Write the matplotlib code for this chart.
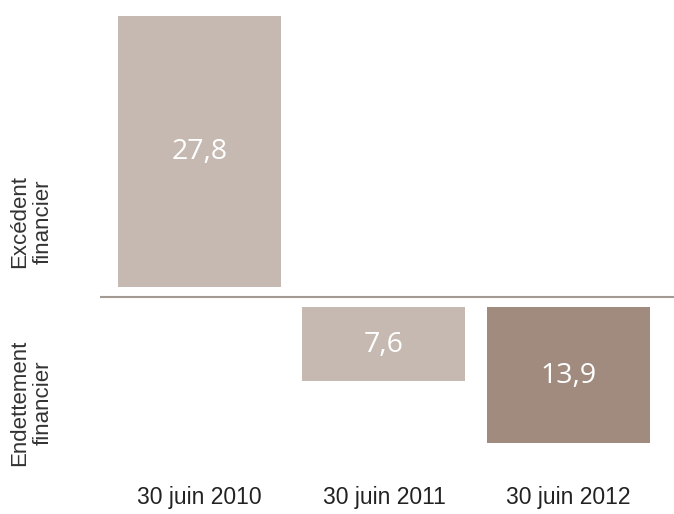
import matplotlib.pyplot as plt
import numpy as np

# data
dates = ['30 juin 2010', '30 juin 2011', '30 juin 2012']
values = [27.8, -7.6, -13.9]
labels = ['27,8', '7,6', '13,9']
colors = ['#c5b9b1', '#c5b9b1', '#a18b7e']

gap = 1.05  # bars sit a little away from the zero line

fig = plt.figure(figsize=(6.74, 5.14), dpi=100)
ax = fig.add_axes([100 / 674, 54 / 514, 574 / 674, 460 / 514])

x = np.arange(len(dates))
bottoms = [gap if v > 0 else -gap for v in values]
bars = ax.bar(x, values, width=0.883, bottom=bottoms, color=colors)

for b, lab in zip(bars, labels):
    cx = b.get_x() + b.get_width() / 2
    cy = b.get_y() + b.get_height() / 2
    ax.text(cx, cy - 0.1, lab, ha='center', va='center', color='white',
            fontsize=20.5, family='Open Sans')

ax.axhline(0, color='#a39b93', linewidth=1.5)

ax.set_xlim(-0.539, 2.572)
ax.set_ylim(-16.7, 30.46)
ax.set_xticks(x)
ax.set_xticklabels(dates, fontsize=16.5, family='Liberation Sans', color='#222222')
ax.tick_params(axis='x', length=0, pad=19)
ax.set_yticks([])
for s in ax.spines.values():
    s.set_visible(False)

fig.text(31 / 674, 1 - 222 / 514, 'Excédent\nfinancier', rotation=90,
         ha='center', va='center', fontsize=16, family='Liberation Sans',
         color='#333333', linespacing=1.15)
fig.text(31 / 674, 1 - 403 / 514, 'Endettement\nfinancier', rotation=90,
         ha='center', va='center', fontsize=16, family='Liberation Sans',
         color='#333333', linespacing=1.15)

fig.savefig('out.png', dpi=100)
